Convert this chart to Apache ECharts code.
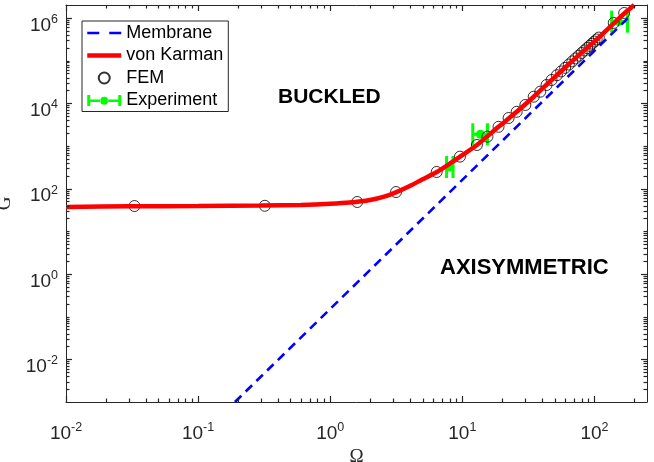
<!DOCTYPE html>
<html lang="en">
<head>
    <meta charset="UTF-8">
    <title>G vs Omega</title>
    <script src="https://cdn.jsdelivr.net/npm/echarts@6/dist/echarts.min.js"></script>
    <style>
        body { margin: 0; background: #fff; }
    </style>
</head>
<body>
    <div id="main" style="width: 654px;height:462px;"></div>
    <script>
        // membrane solution (straight line in log-log)
        const membraneOmega = [0.19, 180];
        const membraneG = [0.001, 1.0e6];

        // von Karman solution
        const karmanOmega = [0.01, 0.03, 0.1, 0.3, 0.6, 1.0, 1.4, 2.0, 2.6, 3.2, 4.0, 5.0, 6.4, 8, 9.6, 12.9, 18.8, 25.8, 34.7, 47.4, 70, 107, 140, 170, 200];
        const karmanG = [37, 38.5, 39, 40, 41.5, 44, 47, 54, 66, 84, 115, 165, 245, 380, 560, 1050, 2800, 6300, 14200, 35000, 106000, 337000, 740000, 1300000, 2000000];

        // FEM results
        const femOmega = [0.033, 0.32, 1.6, 3.15, 6.4, 9.6, 12.9, 15.5, 18.8, 22.4, 25.8, 30, 34.7, 38.9, 43.4, 47.4,
            52, 56, 60, 64, 68, 72, 76, 80, 84, 88, 92, 96, 100, 104, 108, 140, 168];
        const femG = [39, 39.5, 48.5, 83, 245, 560, 1050, 1650, 2800, 4500, 6300, 9100, 14200, 18600, 26700, 35000,
            45300, 55600, 67400, 80600, 95400, 112000, 130000, 150000, 172000, 196000, 221000, 249000, 279000, 311000, 345000, 760000, 1300000];

        // experiment (value, lower / upper Omega)
        const expOmega = [8.05, 13.7, 152];
        const expG = [320, 1870, 815000];
        const expLow = [7.6, 12.0, 135];
        const expHigh = [8.5, 15.5, 178];

        // tick labels (exponents of 10)
        const xMajor = [-2, -1, 0, 1, 2];
        const yMajor = [-2, 0, 2, 4, 6];

        const xMin = 0.01, xMax = 250;
        const yMin = 0.001, yMax = 2e6;

        const lg = v => Math.log10(v);

        // log-spaced minor ticks 2..9 x 10^k plus decades without a label
        function minorTicks(lo, hi, major) {
            const out = [];
            for (let d = Math.floor(lg(lo)); d <= Math.ceil(lg(hi)); d++) {
                for (let m = 1; m <= 9; m++) {
                    const e = lg(m * Math.pow(10, d));
                    if (e > lg(lo) + 1e-9 && e < lg(hi) - 1e-9 && major.indexOf(Math.round(e * 1000) / 1000) < 0) out.push(e);
                }
            }
            return out;
        }
        const xMinor = minorTicks(xMin, xMax, xMajor);
        const yMinor = minorTicks(yMin, yMax, yMajor);

        const axisColor = '#262626';
        const sans = 'Liberation Sans, Arial, sans-serif';
        const serif = 'Liberation Serif, Times New Roman, serif';

        function powLabel(extra) {
            return Object.assign({
                show: true,
                fontFamily: sans,
                color: axisColor,
                formatter: v => '{b|10}{s|' + Math.round(v) + '}',
                rich: {
                    b: { fontSize: 19, fontFamily: sans, color: axisColor, lineHeight: 22, verticalAlign: 'bottom' },
                    s: { fontSize: 12.5, fontFamily: sans, color: axisColor, lineHeight: 22, verticalAlign: 'top' }
                }
            }, extra);
        }

        function makeAxis(pos, label) {
            const isX = pos === 'bottom' || pos === 'top';
            return {
                type: 'value',
                position: pos,
                min: isX ? lg(xMin) : lg(yMin),
                max: isX ? lg(xMax) : lg(yMax),
                axisLine: { show: true, onZero: false, lineStyle: { color: axisColor, width: 1 } },
                axisTick: { show: false },
                minorTick: { show: false },
                splitLine: { show: false },
                axisLabel: label || { show: false },
                axisPointer: { show: false }
            };
        }

        const xAxisList = [
            makeAxis('bottom', powLabel({ margin: 19, customValues: xMajor })),
            makeAxis('top', null)
        ];
        xAxisList[0].name = 'Ω';
        xAxisList[0].nameLocation = 'middle';
        xAxisList[0].nameGap = 29;
        xAxisList[0].nameTextStyle = { fontFamily: serif, fontSize: 19, color: axisColor };

        const yAxisList = [
            makeAxis('left', powLabel({ margin: 8, customValues: yMajor, padding: [12, 0, 0, 0] })),
            makeAxis('right', null)
        ];
        yAxisList[0].name = 'G';
        yAxisList[0].nameLocation = 'middle';
        yAxisList[0].nameRotate = 90;
        yAxisList[0].nameGap = 51;
        yAxisList[0].nameTextStyle = { fontFamily: serif, fontSize: 19, color: axisColor };

        // tick marks: [x, y, 0 = x tick / 1 = y tick, length]
        const tickData = []
            .concat(xMajor.map(v => [v, lg(yMin), 0, 6]))
            .concat(xMinor.map(v => [v, lg(yMin), 0, 3.5]))
            .concat(yMajor.map(v => [lg(xMin), v, 1, 6]))
            .concat(yMinor.map(v => [lg(xMin), v, 1, 3.5]));

        const toLog = (a, b) => a.map((v, i) => [lg(v), lg(b[i])]);
        const green = '#00ff00';

        const myChart = echarts.init(document.getElementById('main'));
        const option = {
            animation: false,
            backgroundColor: '#fff',
            grid: { left: 66, right: 7, top: 5, bottom: 60, containLabel: false, outerBoundsMode: 'none' },
            xAxis: xAxisList,
            yAxis: yAxisList,
            legend: {
                orient: 'vertical',
                left: 82,
                top: 21,
                padding: [3, 5, 2, 3],
                itemGap: 4.5,
                itemWidth: 34,
                itemHeight: 11,
                backgroundColor: '#fff',
                borderColor: axisColor,
                borderWidth: 1,
                borderRadius: 0,
                textStyle: { fontFamily: sans, fontSize: 18, color: '#000', lineHeight: 16 },
                data: [
                    { name: 'Membrane', lineStyle: { type: [12, 10], width: 2.6 }, itemStyle: { opacity: 0 } },
                    { name: 'von Karman', lineStyle: { width: 4.5 }, itemStyle: { opacity: 0 } },
                    { name: 'FEM', icon: 'circle' },
                    {
                        name: 'Experiment',
                        icon: 'path://M0,0h3v11h-3z M31,0h3v11h-3z M3,4.5h10.5v2.5h-10.5z M20.5,4.5h10.5v2.5h-10.5z M13,5.75a4,4 0 1,0 8,0a4,4 0 1,0 -8,0z',
                        itemStyle: { color: green }
                    }
                ]
            },
            graphic: [
                { type: 'text', left: 278, top: 87, style: { text: 'BUCKLED', fontFamily: sans, fontWeight: 'bold', fontSize: 21, fill: '#000' } },
                { type: 'text', left: 440, top: 257, style: { text: 'AXISYMMETRIC', fontFamily: sans, fontWeight: 'bold', fontSize: 22, fill: '#000' } }
            ],
            series: [
                {
                    name: 'axis ticks',
                    type: 'custom',
                    data: tickData,
                    encode: { x: 0, y: 1 },
                    clip: false,
                    z: 5,
                    silent: true,
                    renderItem: function (params, api) {
                        const len = api.value(3);
                        const st = { stroke: axisColor, lineWidth: 1.2 };
                        if (api.value(2) === 0) {
                            const b = api.coord([api.value(0), lg(yMin)]);
                            const t = api.coord([api.value(0), lg(yMax)]);
                            const x = Math.round(b[0]) + 0.5;
                            return {
                                type: 'group', children: [
                                    { type: 'line', shape: { x1: x, y1: b[1], x2: x, y2: b[1] - len }, style: st },
                                    { type: 'line', shape: { x1: x, y1: t[1], x2: x, y2: t[1] + len }, style: st }
                                ]
                            };
                        }
                        const l = api.coord([lg(xMin), api.value(1)]);
                        const r = api.coord([lg(xMax), api.value(1)]);
                        const y = Math.round(l[1]) + 0.5;
                        return {
                            type: 'group', children: [
                                { type: 'line', shape: { x1: l[0], y1: y, x2: l[0] + len, y2: y }, style: st },
                                { type: 'line', shape: { x1: r[0], y1: y, x2: r[0] - len, y2: y }, style: st }
                            ]
                        };
                    }
                },
                {
                    name: 'Membrane',
                    type: 'line',
                    data: toLog(membraneOmega, membraneG),
                    symbol: 'none',
                    clip: true,
                    lineStyle: { color: '#0000ff', width: 2.6, type: [9, 6] },
                    itemStyle: { color: '#0000ff' }
                },
                {
                    name: 'von Karman',
                    type: 'line',
                    data: toLog(karmanOmega, karmanG),
                    symbol: 'none',
                    smooth: 0.3,
                    clip: true,
                    lineStyle: { color: '#ff0000', width: 4.5 },
                    itemStyle: { color: '#ff0000' }
                },
                {
                    name: 'FEM',
                    type: 'scatter',
                    data: toLog(femOmega, femG),
                    symbol: 'circle',
                    symbolSize: 11,
                    itemStyle: { color: 'rgba(0,0,0,0)', borderColor: '#000', borderWidth: 1 }
                },
                {
                    name: 'Experiment',
                    type: 'custom',
                    data: expOmega.map((v, i) => [lg(v), lg(expG[i]), lg(expLow[i]), lg(expHigh[i])]),
                    encode: { x: 0, y: 1 },
                    itemStyle: { color: green },
                    clip: false,
                    renderItem: function (params, api) {
                        const p = api.coord([api.value(0), api.value(1)]);
                        const lo = api.coord([api.value(2), api.value(1)]);
                        const hi = api.coord([api.value(3), api.value(1)]);
                        const h = 11;
                        const st = { stroke: green, lineWidth: 3 };
                        return {
                            type: 'group',
                            children: [
                                { type: 'line', shape: { x1: lo[0], y1: p[1], x2: hi[0], y2: p[1] }, style: st },
                                { type: 'line', shape: { x1: lo[0], y1: p[1] - h, x2: lo[0], y2: p[1] + h }, style: st },
                                { type: 'line', shape: { x1: hi[0], y1: p[1] - h, x2: hi[0], y2: p[1] + h }, style: st },
                                { type: 'circle', shape: { cx: p[0], cy: p[1], r: 4.5 }, style: { fill: green } }
                            ]
                        };
                    }
                }
            ]
        };
        myChart.setOption(option);
    </script>
</body>
</html>
